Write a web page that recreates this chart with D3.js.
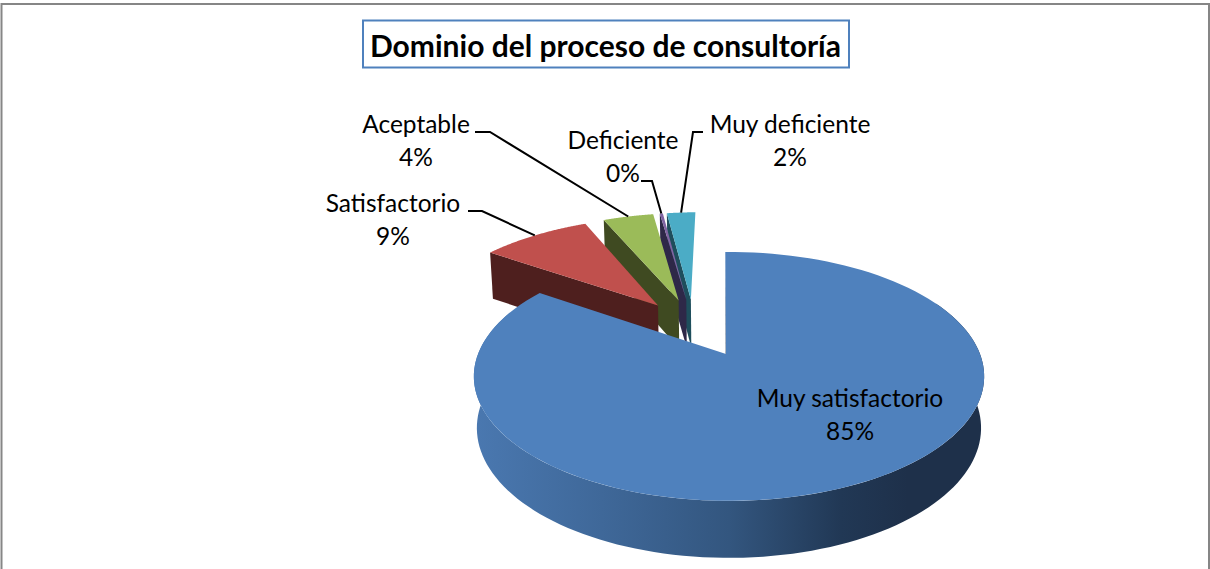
<!DOCTYPE html>
<html><head><meta charset="utf-8">
<script src="https://cdnjs.cloudflare.com/ajax/libs/d3/7.8.5/d3.min.js"></script>
<style>html,body{margin:0;padding:0;background:#fff;overflow:hidden}svg{display:block}text{font-family:Lato,"Open Sans",sans-serif;fill:#000}</style>
</head><body><svg id="c" width="1210" height="569"></svg>
<script>
const title = "Dominio del proceso de consultoría";
const categories = ["Muy satisfactorio","Satisfactorio","Aceptable","Deficiente","Muy deficiente"];
const values = [84.7, 8.7, 4.05, 0.25, 2.3];
const topColors = ["#4F81BD","#C0504D","#9BBB59","#8064A2","#4BACC6"];
const wallColors = ["#1F3552","#4E1F1E","#3F4A21","#2E2848","#1E4E5C"];

const svg = d3.select("#c");
const W = 1210, H = 569;

// frame
svg.append("rect").attr("x",1.5).attr("y",4).attr("width",W-2.5).attr("height",H+20)
  .attr("fill","#fff").attr("stroke","#868686").attr("stroke-width",2);

// title
const gTitle = svg.append("g");
gTitle.append("rect").attr("x",363).attr("y",20.5).attr("width",486).attr("height",47)
  .attr("fill","#fff").attr("stroke","#4F81BD").attr("stroke-width",2);
gTitle.append("text").attr("x",605.5).attr("y",56.5).attr("text-anchor","middle")
  .attr("font-size",30).attr("font-weight",700).text(title);

// pie layout: clockwise from the top, slightly rotated
const rot = -1.0*Math.PI/180;
const pie = d3.pie().sort(null).value(d=>d).startAngle(rot).endAngle(2*Math.PI+rot);
const arcs = pie(values);
const total = d3.sum(values);

// perspective projection of the tilted disc
const K = 0.18, FX = 251, FY = 120.4, OX = 726, OY = 354;
const EXPLODE = 0.25, CU = -0.13, CV = 0.245;
const main = arcs[0];
function offset(a){
  const m = (a.startAngle+a.endAngle)/2;
  return {u: CU+EXPLODE*Math.sin(m), v: CV+EXPLODE*Math.cos(m)};
}
function surf(a,r,t){
  const o = a===main ? {u:0,v:0} : offset(a);
  const u = o.u+r*Math.sin(t), v = o.v+r*Math.cos(t);
  const w = 1+K*v;
  return [OX+FX*u/w+3*r, OY-FY*v/w];
}
function low(p){
  const h = 35+0.044*p[1];
  return [p[0]+(OX-p[0])*0.012, p[1]+h];
}
const line = d3.line();
function rim(a,t0,t1){
  return d3.range(0,121).map(i=>surf(a,1,t0+(t1-t0)*i/120));
}
const wall = (pts)=>line(pts.concat(pts.slice().reverse().map(low)))+"Z";

// gradient of the big slice's side
const defs = svg.append("defs");
const grad = defs.append("linearGradient").attr("id","side").attr("gradientUnits","userSpaceOnUse")
  .attr("x1",474).attr("x2",984).attr("y1",0).attr("y2",0);
[[0,"#4A78B0"],[0.25,"#3F6899"],[0.5,"#33567F"],[0.72,"#213855"],[0.85,"#1E304A"],[1,"#1E304A"]]
  .forEach(s=>grad.append("stop").attr("offset",s[0]).attr("stop-color",s[1]));

const g = svg.append("g");
// small slices, right to left so each covers the cut wall of the next: wall, then top
arcs.map((a,i)=>i).slice(1).reverse().forEach(i=>{
  const a = arcs[i];
  const apex = surf(a,0,0), edge = surf(a,1,a.startAngle);
  g.append("path").attr("d",wall([edge,apex])).attr("fill",wallColors[i]);
  const pts = [apex].concat(rim(a,a.startAngle,a.endAngle));
  g.append("path").attr("d",line(pts)+"Z").attr("fill",topColors[i]);
});
// big slice
const startEdge = surf(main,1,main.startAngle), apexM = surf(main,0,0);
g.append("path").attr("d",wall([startEdge,apexM])).attr("fill",wallColors[0]);
g.append("path").attr("d",wall(rim(main,Math.PI*0.35,Math.PI*1.62))).attr("fill","url(#side)");
g.append("path").attr("d",line([apexM].concat(rim(main,main.startAngle,main.endAngle)))+"Z").attr("fill",topColors[0]);

// labels
const labelPos = [
  {x:850,y:407,lead:null},
  {x:393,y:212,lead:[[468,211],[482,211]]},
  {x:416,y:133,lead:[[475,132],[490,132]]},
  {x:623,y:149,lead:[[641,181],[652,181]]},
  {x:790,y:133,lead:[[703,132],[693,132]]}
];
arcs.forEach((a,i)=>{
  const l = labelPos[i], m = (a.startAngle+a.endAngle)/2;
  const pct = Math.round(a.value/total*100)+"%";
  const t = svg.append("text").attr("text-anchor","middle").attr("font-size",24.5);
  t.append("tspan").attr("x",l.x).attr("y",l.y).text(categories[i]);
  t.append("tspan").attr("x",l.x).attr("y",l.y+33).text(pct);
  if(l.lead){
    svg.append("path").attr("fill","none").attr("stroke","#000").attr("stroke-width",2)
      .attr("d",line(l.lead.concat([surf(a,1,m)])));
  }
});
</script></body></html>
